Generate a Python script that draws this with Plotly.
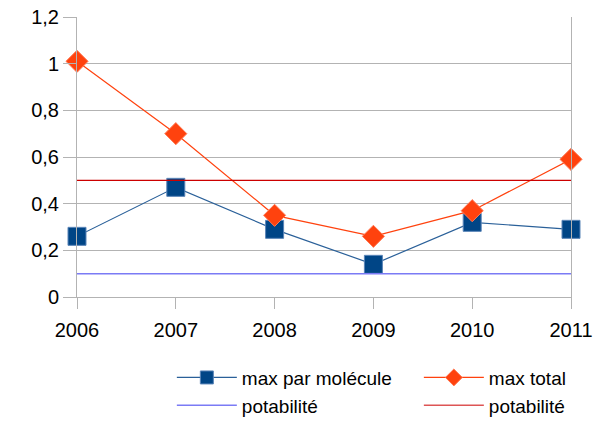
import plotly.graph_objects as go

years = [2006, 2007, 2008, 2009, 2010, 2011]
max_par_molecule = [0.26, 0.47, 0.29, 0.14, 0.32, 0.29]
max_total = [1.01, 0.70, 0.35, 0.26, 0.37, 0.59]
potabilite_blue = [0.1] * len(years)
potabilite_red = [0.5] * len(years)

BLUE_LINE, BLUE_MK = "#2a6099", "#004586"
ORANGE = "#ff420e"

fig = go.Figure()
fig.add_trace(go.Scatter(x=years, y=max_par_molecule, name="max par molécule",
                         mode="lines+markers", cliponaxis=False, showlegend=False,
                         line=dict(color=BLUE_LINE, width=1.2),
                         marker=dict(symbol="square", size=18, color=BLUE_MK,
                                     line=dict(color="#5a85b8", width=1))))
fig.add_trace(go.Scatter(x=years, y=max_total, name="max total",
                         mode="lines+markers", cliponaxis=False, showlegend=False,
                         line=dict(color=ORANGE, width=1.2),
                         marker=dict(symbol="diamond", size=17, color=ORANGE,
                                     line=dict(color="#ff7a55", width=1))))
fig.add_trace(go.Scatter(x=years, y=potabilite_blue, name="potabilité",
                         mode="lines", showlegend=False,
                         line=dict(color="#7b7bf5", width=1.5)))
fig.add_trace(go.Scatter(x=years, y=potabilite_red, name="potabilité",
                         mode="lines", showlegend=False,
                         line=dict(color="#cc0000", width=1.3)))

# legend entries (smaller symbols, as in the reference legend)
fig.add_trace(go.Scatter(x=[None], y=[None], name="max par molécule", mode="lines+markers",
                         line=dict(color=BLUE_LINE, width=1.2),
                         marker=dict(symbol="square", size=13, color=BLUE_MK,
                                     line=dict(color="#5a85b8", width=1))))
fig.add_trace(go.Scatter(x=[None], y=[None], name="max total", mode="lines+markers",
                         line=dict(color=ORANGE, width=1.2),
                         marker=dict(symbol="diamond", size=13, color=ORANGE,
                                     line=dict(color="#ff7a55", width=1))))
fig.add_trace(go.Scatter(x=[None], y=[None], name="potabilité", mode="lines",
                         line=dict(color="#7b7bf5", width=1.5)))
fig.add_trace(go.Scatter(x=[None], y=[None], name="potabilité", mode="lines",
                         line=dict(color="#dd5555", width=1.5)))

fig.update_layout(
    width=602, height=425,
    margin=dict(l=77, r=31, t=17, b=128, autoexpand=False),
    plot_bgcolor="white", paper_bgcolor="white",
    separators=", ",
    font=dict(family="Liberation Sans, Arial, sans-serif", size=20, color="#000000"),
    showlegend=True,
    legend=dict(orientation="h", x=0.192, xanchor="left", y=-0.22, yanchor="top",
                entrywidth=172, itemwidth=60, font=dict(size=19),
                tracegroupgap=0, traceorder="normal"),
)
fig.update_xaxes(range=[2006, 2011], tickmode="array", tickvals=years,
                 ticktext=[str(y) for y in years], ticklabelstandoff=4,
                 showgrid=False, showline=True, linecolor="#b3b3b3", linewidth=1,
                 ticks="outside", ticklen=11, tickcolor="#b3b3b3", zeroline=False)
fig.update_yaxes(range=[0, 1.2], dtick=0.2, tickformat=".1~f",
                 showgrid=True, gridcolor="#b3b3b3", gridwidth=1,
                 showline=True, mirror=True, linecolor="#b3b3b3", linewidth=1,
                 ticks="outside", ticklen=13, tickcolor="#b3b3b3", zeroline=False)

fig.write_html("out.html", config={"displayModeBar": False},
               post_script="document.body.style.margin='0';document.body.style.overflow='hidden';")
